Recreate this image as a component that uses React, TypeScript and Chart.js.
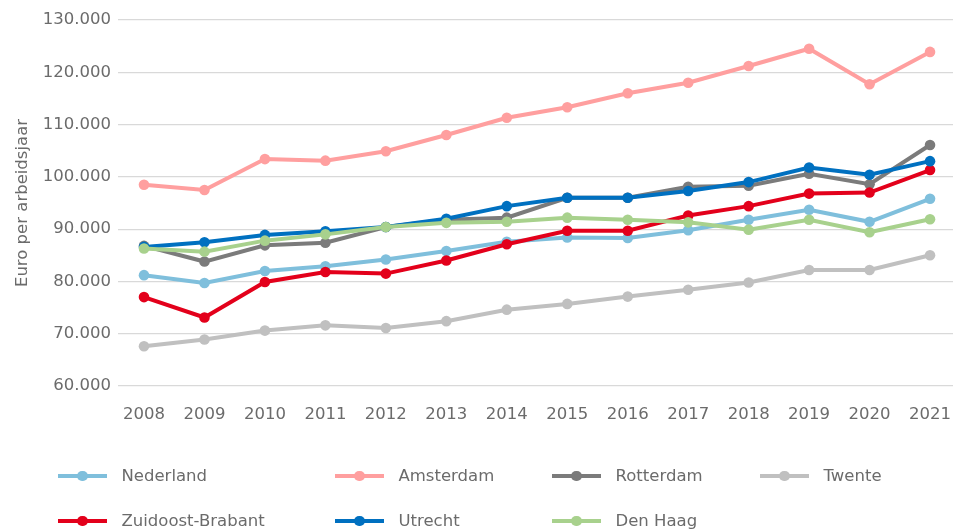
import React, { useEffect, useRef } from 'react';
import { Chart, registerables } from 'chart.js';

Chart.register(...registerables);

// ---- data ----
const years = [2008, 2009, 2010, 2011, 2012, 2013, 2014, 2015, 2016, 2017, 2018, 2019, 2020, 2021];

const nederland = [81200, 79700, 82000, 82900, 84200, 85800, 87600, 88400, 88300, 89800, 91800, 93700, 91400, 95800];
const amsterdam = [98500, 97500, 103400, 103100, 104900, 108000, 111300, 113300, 116000, 118000, 121200, 124500, 117700, 123900];
const rotterdam = [86800, 83800, 86900, 87400, 90400, 91800, 92200, 96000, 96000, 98100, 98300, 100600, 98600, 106100];
const twente = [67600, 68900, 70600, 71600, 71100, 72400, 74600, 75700, 77100, 78400, 79800, 82200, 82200, 85000];
const zuidoostBrabant = [77000, 73100, 79900, 81800, 81500, 84000, 87100, 89700, 89700, 92600, 94400, 96800, 97000, 101300];
const utrecht = [86600, 87500, 88900, 89600, 90400, 92000, 94400, 96000, 96000, 97300, 99000, 101800, 100400, 103000];
const denHaag = [86300, 85700, 87800, 89000, 90400, 91200, 91400, 92200, 91800, 91300, 89900, 91800, 89400, 91900];

const seriesNames = ['Nederland', 'Amsterdam', 'Rotterdam', 'Twente', 'Zuidoost-Brabant', 'Utrecht', 'Den Haag'];
const seriesValues = [nederland, amsterdam, rotterdam, twente, zuidoostBrabant, utrecht, denHaag];
const seriesColors = ['#7fbfdc', '#ff9f9f', '#7b7b7b', '#c0c0c0', '#e3001b', '#0070c0', '#a8d18d'];

const yMin = 60000;
const yMax = 130000;
const yStep = 10000;
const yTitle = 'Euro per arbeidsjaar';

// ---- layout constants ----
const FONT = "'DejaVu Sans', sans-serif";
const TEXT_COLOR = '#6b6b6b';
const legendColumnX = [58, 335, 552, 760];
const legendRowY = [476, 521];

function formatThousands(v: number): string {
  return String(Math.round(v)).replace(/\B(?=(\d{3})+(?!\d))/g, '.');
}

function Legend() {
  return (
    <>
      {seriesNames.map((name, i) => {
        const col = i % 4;
        const row = Math.floor(i / 4);
        const x = legendColumnX[col];
        const y = legendRowY[row];
        const color = seriesColors[i];
        return (
          <div
            key={name}
            style={{
              position: 'absolute',
              left: x,
              top: y - 10,
              height: 20,
              display: 'flex',
              alignItems: 'center',
              whiteSpace: 'nowrap',
            }}
          >
            <div style={{ position: 'relative', width: 49, height: 20, flex: 'none' }}>
              <div
                style={{
                  position: 'absolute',
                  left: 0,
                  top: 8,
                  width: 49,
                  height: 4,
                  background: color,
                }}
              />
              <div
                style={{
                  position: 'absolute',
                  left: 24.5 - 5.3,
                  top: 10 - 5.3,
                  width: 10.6,
                  height: 10.6,
                  borderRadius: '50%',
                  background: color,
                }}
              />
            </div>
            <span
              style={{
                marginLeft: 14.5,
                fontFamily: FONT,
                fontSize: 16.5,
                lineHeight: '20px',
                color: TEXT_COLOR,
              }}
            >
              {name}
            </span>
          </div>
        );
      })}
    </>
  );
}

export default function App() {
  const canvasRef = useRef<HTMLCanvasElement | null>(null);

  useEffect(() => {
    const canvas = canvasRef.current;
    if (!canvas) return;

    const datasets = seriesNames.map((name, i) => ({
      label: name,
      data: years.map((yr, j) => ({ x: yr, y: seriesValues[i][j] })),
      borderColor: seriesColors[i],
      backgroundColor: seriesColors[i],
      pointBackgroundColor: seriesColors[i],
      pointBorderColor: seriesColors[i],
      borderWidth: 4,
      pointRadius: 5.3,
      pointBorderWidth: 0,
      tension: 0,
      fill: false,
      order: seriesNames.length - i,
    }));

    const chart = new Chart(canvas, {
      type: 'line',
      data: { datasets },
      options: {
        animation: false,
        responsive: false,
        maintainAspectRatio: false,
        devicePixelRatio: 1,
        layout: { autoPadding: false, padding: { left: 0, top: 20, right: 0, bottom: 105 } },
        plugins: {
          legend: { display: false },
          tooltip: { enabled: false },
        },
        scales: {
          x: {
            type: 'linear',
            min: 2007.57,
            max: 2021.38,
            afterBuildTicks: (scale: any) => {
              scale.ticks = years.map((v) => ({ value: v }));
            },
            afterFit: (scale: any) => {
              scale.height = 40;
              scale.paddingLeft = 0;
              scale.paddingRight = 0;
            },
            grid: { display: false, drawTicks: false },
            border: { display: false },
            ticks: {
              padding: 19,
              autoSkip: false,
              maxRotation: 0,
              color: TEXT_COLOR,
              font: { family: FONT, size: 16.5 },
              callback: (v: any) => String(v),
            },
          },
          y: {
            min: yMin,
            max: yMax,
            afterFit: (scale: any) => {
              scale.width = 118;
              scale.paddingTop = 0;
              scale.paddingBottom = 0;
            },
            grid: { color: '#d9d9d9', lineWidth: 1.2, drawTicks: false },
            border: { display: false },
            title: {
              display: true,
              text: yTitle,
              color: TEXT_COLOR,
              font: { family: FONT, size: 16.5 },
              padding: { top: 13, bottom: 0 },
            },
            ticks: {
              stepSize: yStep,
              padding: 7,
              color: TEXT_COLOR,
              font: { family: FONT, size: 16.5 },
              callback: (v: any) => formatThousands(Number(v)),
            },
          },
        },
      },
    });

    return () => {
      chart.destroy();
    };
  }, []);

  return (
    <div
      style={{
        position: 'absolute',
        left: 0,
        top: 0,
        width: 953,
        height: 531,
        overflow: 'hidden',
        background: '#ffffff',
      }}
    >
      <canvas ref={canvasRef} width={953} height={531} style={{ position: 'absolute', left: 0, top: 0 }} />
      <Legend />
    </div>
  );
}
